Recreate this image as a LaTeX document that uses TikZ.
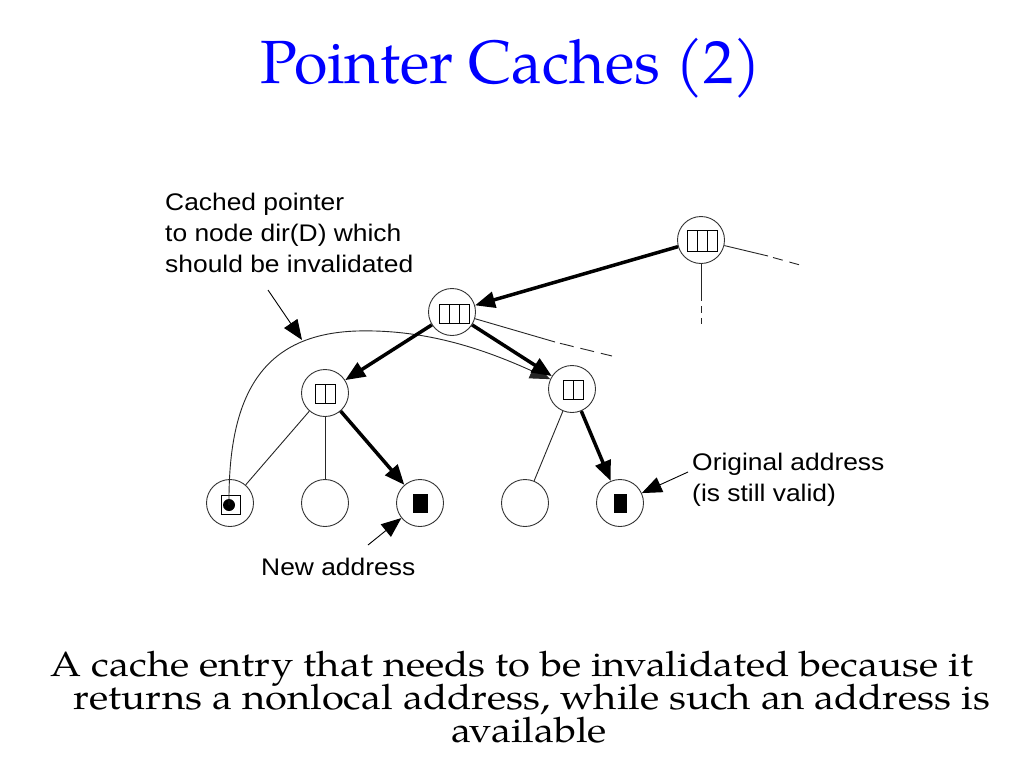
\documentclass[tikz,border=0pt]{standalone}
\usepackage{fontspec}
\setmainfont{TeX Gyre Pagella}
\newfontfamily\arialfont{Liberation Sans}
\usetikzlibrary{arrows.meta}
\newcommand\widetxt[1]{\scalebox{1.1}[1]{#1}}
\newcommand\bodyline[1]{\scalebox{1.14}[1]{#1}}
\begin{document}
\begin{tikzpicture}[x=1pt,y=-1pt,
  nd/.style={circle,draw=black!80,line width=0.9pt,minimum size=47pt,inner sep=0pt},
  edgeline/.style={draw=black!85,line width=0.9pt},
  bigarrow/.style={line width=3.5pt,-{Triangle[length=20pt,width=16pt]}},
  ptr/.style={line width=0.9pt,-{Triangle[length=20pt,width=16pt]}},
  lbl/.style={font=\arialfont\fontsize{24}{31}\selectfont,inner sep=0pt,anchor=base west,align=left},
  cellbox/.style={draw=black,line width=0.9pt},
  titletxt/.style={font=\fontsize{61}{70}\selectfont,text=blue,inner sep=0pt,anchor=base},
  bodytxt/.style={font=\fontsize{35}{40}\selectfont,inner sep=0pt,anchor=base}
]
\useasboundingbox (0,0) rectangle (1024,768);
\fill[white] (0,0) rectangle (1024,768);

% title
\node[titletxt] (title) at (511,83) {Pointer Caches (2)};

% tree nodes
\node[nd] (R) at (701,240) {};
\node[nd] (A) at (452,312) {};
\node[nd] (B) at (325,393) {};
\node[nd] (C) at (572,389) {};
\node[nd] (L1) at (230,503) {};
\node[nd] (L2) at (325,503) {};
\node[nd] (L3) at (420,503) {};
\node[nd] (L4) at (525,503) {};
\node[nd] (L5) at (620,503) {};

% inner boxes
\draw[cellbox] ([shift={(-14,-10)}]R.center) rectangle ([shift={(16,11)}]R.center);
\draw[cellbox] ([shift={(-4,-10)}]R.center) -- ([shift={(-4,11)}]R.center);
\draw[cellbox] ([shift={(6,-10)}]R.center) -- ([shift={(6,11)}]R.center);

\draw[cellbox] ([shift={(-13,-8)}]A.center) rectangle ([shift={(17,11)}]A.center);
\draw[cellbox] ([shift={(-3,-8)}]A.center) -- ([shift={(-3,11)}]A.center);
\draw[cellbox] ([shift={(7,-8)}]A.center) -- ([shift={(7,11)}]A.center);

\draw[cellbox] ([shift={(-10,-9)}]B.center) rectangle ([shift={(10,10)}]B.center);
\draw[cellbox] ([shift={(0,-9)}]B.center) -- ([shift={(0,10)}]B.center);

\draw[cellbox] ([shift={(-9,-9)}]C.center) rectangle ([shift={(11,10)}]C.center);
\draw[cellbox] ([shift={(1,-9)}]C.center) -- ([shift={(1,10)}]C.center);

\draw[cellbox] ([shift={(-9,-8)}]L1.center) rectangle ([shift={(10,11)}]L1.center);
\fill[black] ([shift={(-1,2)}]L1.center) circle (6);
\fill[black] ([shift={(-7,-9)}]L3.center) rectangle ([shift={(8,10)}]L3.center);
\fill[black] ([shift={(-6,-9)}]L5.center) rectangle ([shift={(7,10)}]L5.center);

% continuation lines
\coordinate (Rm) at (768,256);
\coordinate (Re) at (800,265);
\coordinate (Dm) at (701,301);
\coordinate (De) at (701,324);
\coordinate (Am) at (555,342);
\coordinate (Ae) at (612,356);
\draw[edgeline] (R) -- (Rm);
\draw[draw=black!85,line width=0.9pt,dash pattern=on 10pt off 7pt] ([shift={(5,1.5)}]Rm) -- (Re);
\draw[edgeline] (R) -- (Dm);
\draw[draw=black!85,line width=0.9pt,dash pattern=on 7pt off 5pt] ([shift={(0,5)}]Dm) -- (De);
\draw[edgeline] (A) -- (Am);
\draw[draw=black!85,line width=0.9pt,dash pattern=on 14pt off 7pt] ([shift={(5,1.3)}]Am) -- (Ae);

% thin tree edges
\draw[edgeline] (B) -- (L1);
\draw[edgeline] (B) -- (L2);
\draw[edgeline] (C) -- (L4);

% cached pointer curve
\draw[ptr,draw=black!85] ([shift={(-1,2)}]L1.center) .. controls (228,395) and (262,334) .. (357,331)
   .. controls (430,329) and (490,352) .. (C);

% thick arrows
\draw[bigarrow] (R) -- (A);
\draw[bigarrow] (A) -- (B);
\draw[bigarrow] (A) -- (C);
\draw[bigarrow] (B) -- (L3);
\draw[bigarrow] (C) -- (L5);

% labels (base anchor = last line baseline)
\node[lbl] (cached) at (165,272) {\widetxt{Cached pointer}\\\widetxt{to node dir(D) which}\\\widetxt{should be invalidated}};
\node[lbl] (newaddr) at (261,575) {\widetxt{New address}};
\node[lbl] (origaddr) at (692,501) {\widetxt{Original address}\\\widetxt{(is still valid)}};

\coordinate (cs) at (268,290);
\coordinate (ct) at (302,340);
\draw[ptr] (cs) -- (ct);
\coordinate (ns) at (368,545);
\draw[ptr] (ns) -- (L3);
\coordinate (os) at (688,472);
\draw[ptr] (os) -- (L5);

% body text
\node[bodytxt] (b1) at (512,676) {\bodyline{A cache entry that needs to be invalidated because it}};
\node[bodytxt] (b2) at (532,709) {\bodyline{returns a nonlocal address, while such an address is}};
\node[bodytxt] (b3) at (529,742) {\bodyline{available}};
\end{tikzpicture}
\end{document}
